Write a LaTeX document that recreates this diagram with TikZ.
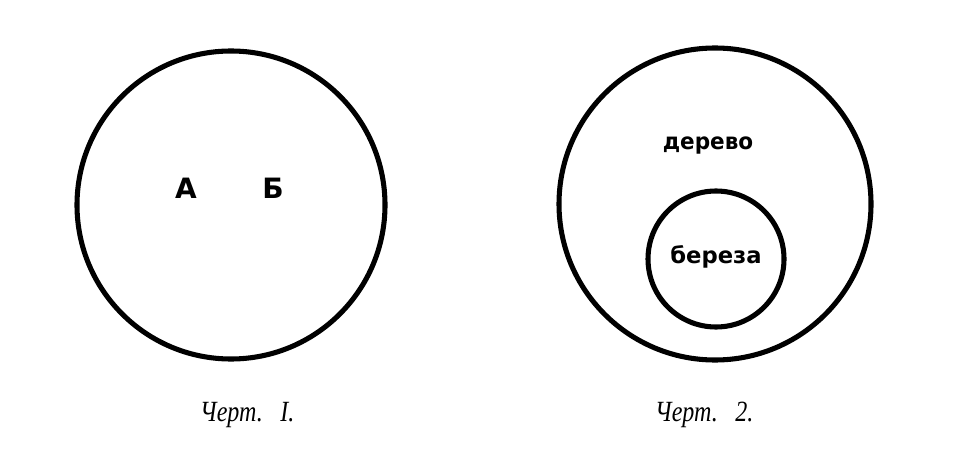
\documentclass[tikz,border=0pt]{standalone}
\usepackage{fontspec}
\setmainfont{Liberation Serif}
\newfontfamily\lblfont{DejaVu Sans}
\begin{document}
\begin{tikzpicture}[x=0.75pt,y=-0.75pt,
  ring/.style={draw=black,line width=3.8pt,circle,inner sep=0pt},
  lbl/.style={font=\lblfont\bfseries\fontsize{17}{20}\selectfont,anchor=base,inner sep=0pt},
  biglbl/.style={font=\lblfont\bfseries\fontsize{21}{24}\selectfont,anchor=base,inner sep=0pt},
  captxt/.style={font=\itshape\fontsize{22}{26}\selectfont,anchor=base west,inner sep=0pt,xscale=0.82}]
\useasboundingbox[fill=white] (0,0) rectangle (970,470);
\node[ring,minimum size=231pt] (c1) at (231,205) {};
\node[ring,minimum size=234pt] (c2) at (715,204) {};
\node[ring,minimum size=102pt] (c3) at (716,259) {};
\node[biglbl] (a) at (186,199) {А};
\node[biglbl] (b) at (273,199) {Б};
\node[lbl,xscale=0.95] (d) at (708,150) {дерево};
\node[lbl] (e) at (716,263) {береза};
\node[captxt] (t1) at (200,421) {Черт.\hspace{16pt}I.};
\node[captxt] (t2) at (655,421) {Черт.\hspace{16pt}2.};
\end{tikzpicture}
\end{document}
